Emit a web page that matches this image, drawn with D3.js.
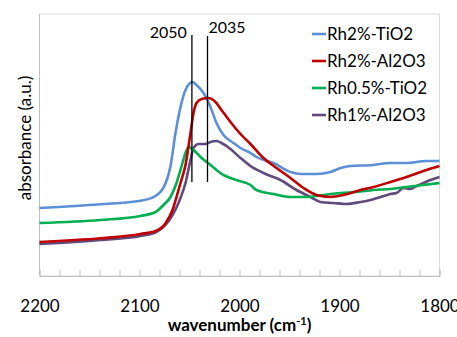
<!DOCTYPE html>
<html>
<head>
<meta charset="utf-8">
<script src="https://cdn.jsdelivr.net/npm/d3@7"></script>
<style>
  body { margin: 0; background: #fff; }
  svg { display: block; font-family: Lato, "Open Sans", sans-serif; }
</style>
</head>
<body>
<div id="chart"></div>
<script>
// series: wavenumber (cm-1) and absorbance (a.u.)
const seriesNames = ['Rh2%-TiO2', 'Rh2%-Al2O3', 'Rh0.5%-TiO2', 'Rh1%-Al2O3']
const seriesColors = ['#5b8fd6', '#c00000', '#00b050', '#604a7b']

const wnTiO2_2 = [2200, 2139, 2099, 2084, 2076, 2072, 2069, 2064, 2059, 2054, 2047, 2043, 2036, 2029, 2023, 2016, 2006, 1999, 1989, 1983, 1966, 1949, 1939, 1923, 1909, 1899, 1889, 1866, 1849, 1833, 1813, 1800]
const absTiO2_2 = [0.68, 0.717, 0.753, 0.80, 0.885, 0.98, 1.10, 1.43, 1.69, 1.86, 1.94, 1.91, 1.83, 1.69, 1.53, 1.41, 1.33, 1.28, 1.23, 1.19, 1.13, 1.04, 1.02, 1.02, 1.04, 1.08, 1.10, 1.11, 1.13, 1.13, 1.15, 1.15]

const wnAl2O3_2 = [2200, 2139, 2099, 2084, 2074, 2067, 2061, 2059, 2054, 2049, 2046, 2043, 2038, 2031, 2024, 2018, 2009, 1999, 1989, 1976, 1963, 1949, 1936, 1923, 1909, 1896, 1879, 1866, 1849, 1833, 1816, 1800]
const absAl2O3_2 = [0.34, 0.377, 0.42, 0.45, 0.527, 0.66, 0.86, 0.93, 1.11, 1.43, 1.63, 1.73, 1.77, 1.78, 1.74, 1.66, 1.54, 1.42, 1.32, 1.18, 1.08, 0.98, 0.88, 0.81, 0.79, 0.81, 0.86, 0.89, 0.94, 0.99, 1.05, 1.10]

const wnTiO2_05 = [2200, 2139, 2099, 2084, 2076, 2069, 2063, 2059, 2054, 2051, 2046, 2039, 2029, 2016, 2003, 1989, 1983, 1966, 1949, 1933, 1916, 1899, 1883, 1866, 1849, 1833, 1816, 1800]
const absTiO2_05 = [0.53, 0.56, 0.60, 0.64, 0.71, 0.79, 0.93, 1.06, 1.23, 1.29, 1.26, 1.19, 1.11, 1.01, 0.96, 0.91, 0.86, 0.82, 0.79, 0.79, 0.81, 0.83, 0.84, 0.86, 0.87, 0.89, 0.91, 0.93]

const wnAl2O3_1 = [2200, 2139, 2099, 2084, 2074, 2067, 2061, 2059, 2054, 2049, 2046, 2041, 2034, 2029, 2023, 2018, 2009, 1999, 1989, 1976, 1959, 1943, 1929, 1919, 1906, 1893, 1879, 1869, 1859, 1849, 1843, 1836, 1829, 1823, 1816, 1809, 1800]
const absAl2O3_1 = [0.32, 0.36, 0.40, 0.435, 0.51, 0.61, 0.73, 0.78, 0.93, 1.16, 1.28, 1.32, 1.32, 1.34, 1.35, 1.33, 1.27, 1.18, 1.10, 1.03, 0.96, 0.86, 0.79, 0.74, 0.73, 0.72, 0.74, 0.76, 0.79, 0.82, 0.83, 0.88, 0.87, 0.90, 0.93, 0.96, 0.99]

const xTicks = [2200, 2100, 2000, 1900, 1800]
// marker lines, drawn where they sit in the picture
const markLabels = ['2050', '2035']
const markPos = [2047.6, 2032]
const markTop = 2.41
const markBottom = 0.94

const width = 457, height = 337
const plot = { left: 39.5, right: 439.5, top: 14, bottom: 276 }

const svg = d3.select('#chart').append('svg')
  .attr('width', width)
  .attr('height', height)

const x = d3.scaleLinear().domain([2200, 1800]).range([plot.left, plot.right])
const y = d3.scaleLinear().domain([0, 2.62]).range([plot.bottom, plot.top])

// frame
svg.append('rect')
  .attr('x', plot.left).attr('y', plot.top)
  .attr('width', plot.right - plot.left).attr('height', plot.bottom - plot.top)
  .attr('fill', 'none').attr('stroke', '#d9d9d9').attr('stroke-width', 1)
svg.append('line')
  .attr('x1', plot.left).attr('x2', plot.left)
  .attr('y1', plot.top).attr('y2', plot.bottom)
  .attr('stroke', '#bfbfbf')

// x axis, minor ticks pointing inward
const xAxis = d3.axisBottom(x)
  .tickValues(d3.range(2200, 1799, -20))
  .tickSize(-6)
  .tickFormat(d => xTicks.includes(d) ? d : '')
const gx = svg.append('g')
  .attr('transform', 'translate(0,' + plot.bottom + ')')
  .call(xAxis)
gx.select('.domain').attr('stroke', '#bfbfbf')
gx.selectAll('.tick line').attr('stroke', '#bfbfbf')
gx.selectAll('.tick text')
  .attr('y', 24)
  .attr('dy', '0.7em')
  .attr('fill', '#000')
  .style('font-size', '17px')
  .style('font-family', 'Lato, sans-serif')

// curves
const seriesData = [
  d3.zip(wnTiO2_2, absTiO2_2),
  d3.zip(wnAl2O3_2, absAl2O3_2),
  d3.zip(wnTiO2_05, absTiO2_05),
  d3.zip(wnAl2O3_1, absAl2O3_1)
]
const line = d3.line()
  .x(d => x(d[0]))
  .y(d => y(d[1]))
  .curve(d3.curveMonotoneX)

// draw order: purple under red, as in picture
const order = [3, 2, 0, 1]
order.forEach(i => {
  svg.append('path')
    .attr('d', line(seriesData[i]))
    .attr('fill', 'none')
    .attr('stroke', seriesColors[i])
    .attr('stroke-width', 2.6)
    .attr('stroke-linejoin', 'round')
})

// marker lines
markPos.forEach((p, i) => {
  svg.append('line')
    .attr('x1', x(p)).attr('x2', x(p))
    .attr('y1', y(markTop) + (i ? 1 : 0)).attr('y2', y(markBottom))
    .attr('stroke', '#000').attr('stroke-width', 1.3)
})
svg.append('text')
  .attr('x', x(markPos[0]) - 5).attr('y', y(markTop) + 3)
  .attr('text-anchor', 'end')
  .style('font-size', '16px')
  .text(markLabels[0])
svg.append('text')
  .attr('x', x(markPos[1]) + 1).attr('y', y(markTop) - 2)
  .style('font-size', '16px')
  .text(markLabels[1])

// legend
const legend = svg.append('g').attr('transform', 'translate(312,34)')
seriesNames.forEach((name, i) => {
  const row = legend.append('g').attr('transform', 'translate(0,' + (i * 27) + ')')
  row.append('line')
    .attr('x1', 0).attr('x2', 14)
    .attr('stroke', seriesColors[i]).attr('stroke-width', 2.6)
  row.append('text')
    .attr('x', 15).attr('dy', '0.36em')
    .style('font-size', '17px')
    .text(name)
})

// axis titles
const xt = svg.append('text')
  .attr('x', (plot.left + plot.right) / 2).attr('y', 331)
  .attr('text-anchor', 'middle')
  .style('font-size', '17px')
  .style('font-weight', 'bold')
xt.append('tspan').text('wavenumber (cm')
xt.append('tspan').attr('dy', -6).style('font-size', '11px').text('-1')
xt.append('tspan').attr('dy', 6).text(')')

svg.append('text')
  .attr('transform', 'translate(31,' + 138 + ') rotate(-90)')
  .attr('text-anchor', 'middle')
  .style('font-size', '17px')
  .text('absorbance (a.u.)')
</script>
</body>
</html>
